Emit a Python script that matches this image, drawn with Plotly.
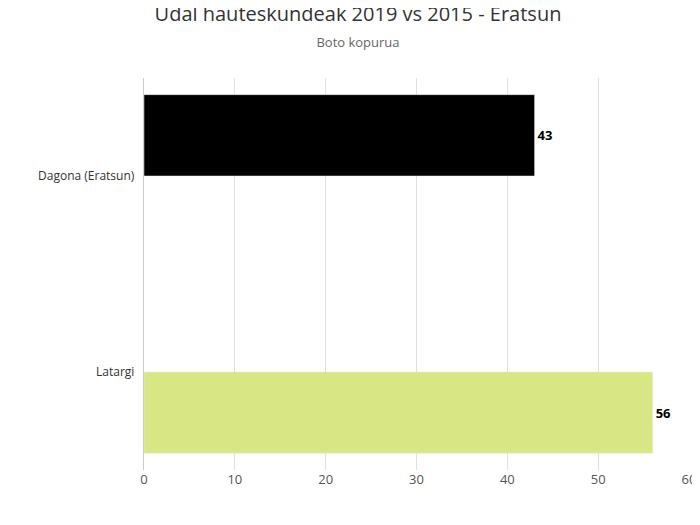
import plotly.graph_objects as go

categories = ["Dagona (Eratsun)", "Latargi"]
values_a = [43, None]
values_b = [None, 56]
colors = ["#000000", "#d8e683"]

fig = go.Figure()
fig.add_bar(y=categories, x=values_a, orientation="h", marker_color=colors[0],
            text=["43", ""], textposition="outside",
            textfont=dict(size=13, color="#000", family="Open Sans"), cliponaxis=False)
fig.add_bar(y=categories, x=values_b, orientation="h", marker_color=colors[1],
            text=["", "56"], textposition="outside",
            textfont=dict(size=13, color="#000", family="Open Sans"), cliponaxis=False)
fig.update_layout(
    width=700, height=525, barmode="group", bargap=0.17, bargroupgap=0,
    showlegend=False, plot_bgcolor="white", paper_bgcolor="white",
    margin=dict(l=136, r=15, t=70, b=63),
    font=dict(family="Open Sans", color="#333"),
    title=dict(text="Udal hauteskundeak 2019 vs 2015 - Eratsun<br><span style='font-size:13px;color:#666'>Boto kopurua</span>",
               x=0.5, xanchor="center", y=0.975, yanchor="top", font=dict(size=20, color="#333")),
    xaxis=dict(range=[0, 60], dtick=10, showgrid=True, gridcolor="#e0e0e0", zeroline=False,
               tickfont=dict(size=13, color="#555"), fixedrange=True),
    yaxis=dict(autorange="reversed", showline=True, linecolor="#ccc", ticks="",
               tickfont=dict(size=12, color="#333"), ticksuffix="  "),
)
fig.update_traces(textfont_weight="bold")
fig.write_html("out.html")
